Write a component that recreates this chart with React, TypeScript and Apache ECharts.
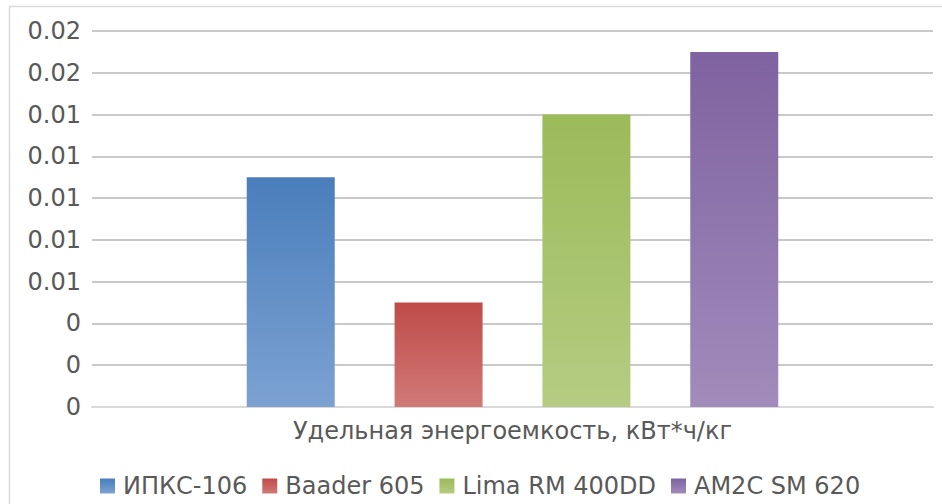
import React, { useEffect, useRef } from "react";
import * as echarts from "echarts";

const categories = ["Удельная энергоемкость, кВт*ч/кг"];
const seriesNames = ["ИПКС-106", "Baader 605", "Lima RM 400DD", "AM2C SM 620"];
const seriesValues = [[0.011], [0.005], [0.014], [0.017]];
const topColors = ["#4a7ebb", "#be4b48", "#9bbb59", "#7f62a0"];
const bottomColors = ["#7ca2d2", "#d17a78", "#b5cc82", "#a18cbb"];

function grad(i: number) {
  return new echarts.graphic.LinearGradient(0, 0, 0, 1, [
    { offset: 0, color: topColors[i] },
    { offset: 1, color: bottomColors[i] },
  ]);
}

export default function App() {
  const ref = useRef<HTMLDivElement>(null);
  useEffect(() => {
    if (!ref.current) return;
    const chart = echarts.init(ref.current, null, { renderer: "svg" });
    const font = "DejaVu Sans";
    chart.setOption({
      animation: false,
      backgroundColor: "#ffffff",
      textStyle: { fontFamily: font },
      graphic: [
        {
          type: "rect",
          shape: { x: 9.5, y: 6.5, width: 1200, height: 1200 },
          style: { fill: "none", stroke: "#d9d9d9", lineWidth: 1.5 },
          silent: true,
        },
      ],
      grid: { left: 92, right: 9, top: 31, bottom: 97, containLabel: false },
      legend: {
        bottom: 1,
        left: 95,
        itemWidth: 15,
        itemHeight: 15,
        itemGap: 15,
        icon: "rect",
        textStyle: {
          fontSize: 24,
          color: "#595959",
          fontFamily: font,
          padding: [0, 0, 0, 3],
        },
        data: seriesNames,
      },
      xAxis: {
        type: "category",
        data: categories,
        axisLine: { lineStyle: { color: "#d9d9d9", width: 2 } },
        axisTick: { show: false },
        axisLabel: { fontSize: 24, color: "#595959", margin: 12, fontFamily: font },
      },
      yAxis: {
        type: "value",
        min: 0,
        max: 0.018,
        interval: 0.002,
        axisLine: { show: false },
        axisTick: { show: false },
        splitLine: { lineStyle: { color: "#c9c9c9", width: 2 } },
        axisLabel: {
          fontSize: 24,
          color: "#595959",
          margin: 11,
          fontFamily: font,
          formatter: (v: number) => {
            const r = Math.round(v * 100) / 100;
            return r === 0 ? "0" : r.toFixed(2);
          },
        },
      },
      series: seriesNames.map((name, i) => ({
        name,
        type: "bar",
        data: seriesValues[i],
        barWidth: 88,
        barGap: "68%",
        itemStyle: { color: grad(i) },
      })),
    });
    return () => chart.dispose();
  }, []);
  return (
    <div
      ref={ref}
      style={{ position: "absolute", left: 0, top: 0, width: 942, height: 504 }}
    />
  );
}
